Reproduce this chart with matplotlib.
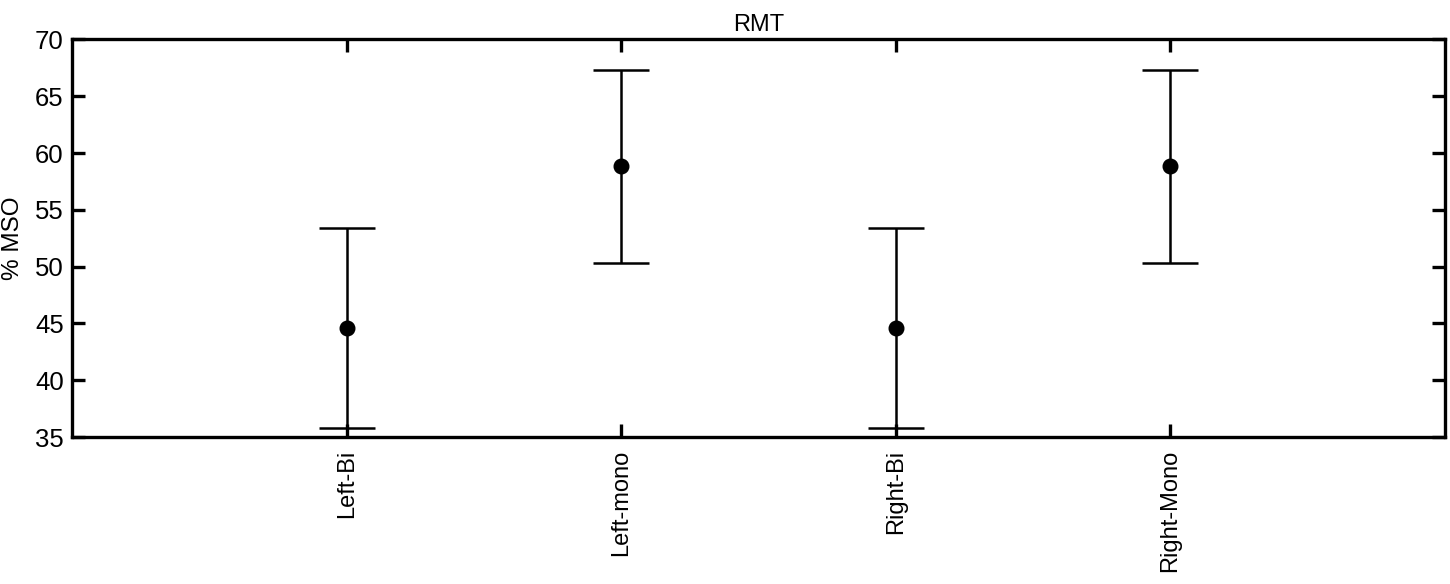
import matplotlib
matplotlib.use("Agg")
import matplotlib.pyplot as plt

plt.rcParams['font.family'] = ['Liberation Sans', 'DejaVu Sans']

categories = ["Left-Bi", "Left-mono", "Right-Bi", "Right-Mono"]
means = [44.6, 58.85, 44.6, 58.85]
errors = [8.8, 8.5, 8.8, 8.5]
x_pos = [1, 2, 3, 4]
y_ticks = [35, 40, 45, 50, 55, 60, 65, 70]

fig = plt.figure(figsize=(14.5, 5.84), dpi=100)
ax = fig.add_axes([0.0497, 0.2517, 0.9469, 0.6807])

ax.errorbar(x_pos, means, yerr=errors, fmt='o', color='black', ecolor='black',
            markersize=10.5, elinewidth=1.8, capsize=20, capthick=1.8, zorder=3)

ax.set_xlim(0, 5)
ax.set_ylim(35, 70)
ax.set_yticks(y_ticks)
ax.set_xticks(x_pos)
ax.set_xticklabels(categories, rotation=90, fontsize=17)
ax.tick_params(axis='y', labelsize=18.5, pad=6)
ax.tick_params(axis='x', pad=9)
ax.tick_params(direction='in', length=9.5, width=2.4, top=True, right=True)
for s in ax.spines.values():
    s.set_linewidth(2.4)

ax.set_ylabel("% MSO", fontsize=17.5, labelpad=8)
ax.set_title("RMT", fontsize=17, pad=6)

fig.savefig("out.png", dpi=100)
